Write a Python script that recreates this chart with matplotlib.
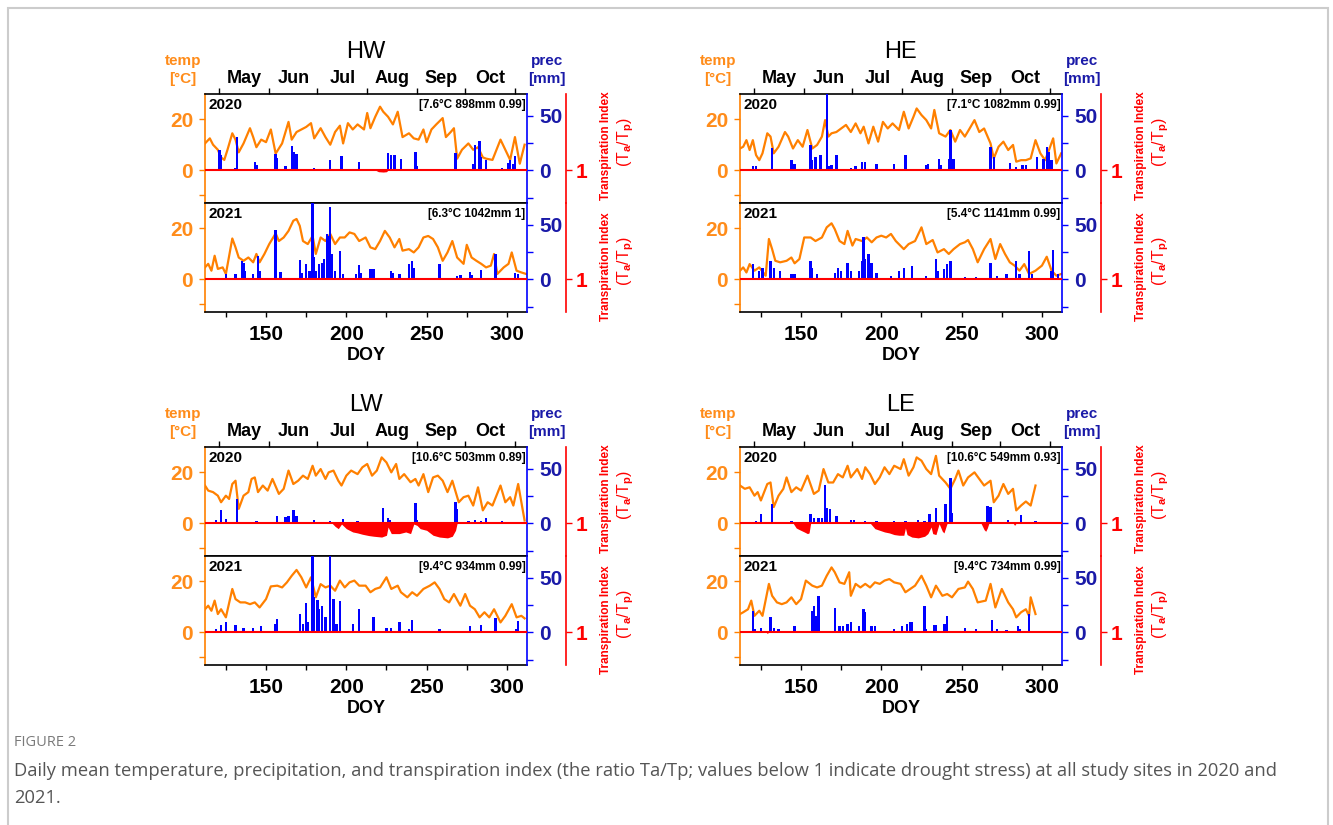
import matplotlib.pyplot as plt

plt.rcParams['font.family'] = ['Liberation Sans', 'DejaVu Sans']
plt.rcParams['font.weight'] = 'bold'
plt.rcParams['axes.labelweight'] = 'bold'
plt.rcParams['mathtext.fontset'] = 'custom'
plt.rcParams['mathtext.rm'] = 'Liberation Sans'

# ---- data: (DOY, value) ----
hw20_temp = [(112,10.5),(115,12.5),(117,10),(120,8),(122,5),(124,4),(126,8),(129,14.5),(131,12),(133,7),
             (136,10.5),(140,16.5),(142,13),(144,9),(147,12),(150,11),(153,16),(156,6.5),(160,10.5),(164,19),
             (166,12),(169,15),(172,16),(175,17),(178,18.5),(180,12.5),(184,16.5),(187,13),(190,10),(193,15),
             (196,17.5),(198,10.5),(201,18.5),(204,16),(207,18),(211,16),(213,22.5),(215,16.5),(218,21),(221,25),
             (223,23),(226,21),(229,18),(232,23),(235,13),(239,14.5),(242,12.5),(245,12),(248,16),(250,11),
             (253,16),(256,18),(260,20.5),(262,13),(265,15),(267,16.5),(269,4.5),(272,8),(276,10.5),(279,8),
             (282,9),(285,5),(287,4.5),(291,4),(296,12),(299,8),(302,4),(305,13),(308,2.5),(311,10)]
hw20_prec = [(121,18.5),(122,14),(131,2),(132,31),(143,8),(144,5),(156,15),(157,11),(162,4),(166,22),
             (167,17),(169,15),(180,2.5),(190,9),(197,13),(208,7.5),(226,16),(228,14),(230,14),(234,10),
             (243,17),(244,4),(268,16),(279,6),(280,23),(283,27),(284,12),(287,9),(297,2.5),(301,7),
             (302,9),(304,5.5),(305,13)]
hw20_ti = [(218,1.0),(220,0.95),(223,0.94),(225,0.95),(226,1.0)]

hw21_temp = [(112,4.6),(114,6),(116,3.3),(118,9.2),(120,4),(123,4.6),(125,2),(129,16),(131,12.5),(133,8.5),
             (136,7.2),(139,8.5),(142,6.6),(144,9.9),(146,6.6),(149,9.9),(152,13.8),(156,18),(158,15),(161,16.4),
             (164,19),(167,23),(169,23.7),(171,21),(173,15),(176,13.8),(179,17),(181,9.9),(184,16.4),(187,15),
             (190,17.8),(193,13.8),(196,16.4),(199,16.4),(202,18.4),(205,17.8),(208,15),(212,16.4),(215,12.5),(218,11.8),
             (221,15),(224,19),(227,16.4),(230,12.5),(233,15.8),(235,11.2),(239,11.8),(242,10.5),(245,12.5),(248,16.4),
             (251,17),(254,15.8),(257,12.5),(260,7.2),(263,10.5),(266,15),(269,8.5),(273,6),(275,13.5),(278,8.5),
             (281,7.2),(284,6),(287,4.6),(290,5.3),(292,9.9),(294,2),(298,4.6),(301,6),(303,10.5),(306,3.3),
             (309,2.6),(312,2)]
hw21_prec = [(121,1.5),(125,4.6),(131,4.6),(135,17),(136,15),(137,7.7),(142,4.6),(145,21.6),(146,7.7),(156,44.8),
             (159,6.8),(171,17.6),(172,6),(175,14),(177,7.7),(179,72),(180,20),(181,7.7),(183,14),(185,15),
             (186,18.5),(188,41.7),(189,40),(190,66),(191,23),(193,7.7),(196,26),(198,4.6),(206,4.6),(208,13),
             (209,6),(215,9),(217,9),(228,7.7),(229,6),(233,4.6),(239,14),(241,17),(242,10.8),(258,14),
             (269,3),(271,3.7),(277,6.8),(278,3.7),(284,8.3),(293,23),(305,6),(307,4.6)]
hw21_ti = []

he20_temp = [(112,8.5),(114,9.2),(116,11.8),(118,7.9),(120,11.8),(122,5.9),(124,3.9),(126,6.6),(129,14.5),(131,13.2),
             (133,6.6),(136,9.2),(140,15),(142,13.2),(145,8.5),(148,11.8),(151,9.2),(154,15.8),(157,8.5),(160,9.9),
             (163,13.2),(165,19.7),(167,13.2),(169,14.5),(172,15),(175,16.4),(178,17.8),(181,15),(184,18.4),(187,14.5),
             (189,17.1),(192,10.5),(195,17.1),(198,11.2),(201,19),(204,16.4),(207,18.4),(211,15.8),(214,23),(217,16.4),
             (220,21),(222,24.3),(225,21.7),(228,19.7),(231,16.4),(233,23.7),(236,14.5),(240,13.2),(243,15.8),(246,11.2),
             (249,15.8),(252,13.2),(255,16.4),(258,19.7),(261,15),(264,16.4),(268,10.5),(270,4.6),(273,9.2),(276,11.2),
             (279,7.9),(282,9.9),(284,3.3),(287,3.9),(290,3.9),(293,4.6),(296,11.8),(299,6.6),(302,3.9),(304,7.2),
             (307,12.5),(309,2.6),(312,6.6)]
he20_prec = [(120,3.7),(122,3.7),(132,20),(144,9.9),(146,6),(156,23),(157,9),(159,12),(162,14),(166,72),
             (167,3.7),(169,4.6),(172,14),(181,2),(184,3.7),(188,7.7),(190,7.7),(197,6),(208,6),(215,14),
             (228,4.6),(229,5.6),(236,10),(237,4.6),(242,10),(243,37),(245,10.8),(268,21),(270,12),(280,6.8),
             (284,3),(288,4.6),(290,4.6),(297,12),(301,10.8),(303,21.6),(304,17),(306,9)]
he20_ti = []

he21_temp = [(112,3.3),(114,4.6),(116,2.6),(118,5.9),(121,3.3),(124,4.6),(128,1.3),(130,15.8),(132,11.8),(134,7.2),
             (137,6.6),(141,7.2),(144,8.5),(146,6.2),(149,7.9),(152,16.4),(156,16.4),(159,15),(163,16.4),(166,20.4),
             (169,22),(171,19.7),(174,15),(177,13.8),(179,19),(182,13.2),(184,15.8),(188,15),(191,16.4),(194,14.5),
             (197,16.4),(200,17.1),(203,16.4),(206,17.8),(209,15),(214,11.8),(217,13.8),(221,15),(225,20.4),(228,13.8),
             (232,15.4),(235,10.5),(239,11.8),(242,9.9),(245,11.8),(249,13.8),(252,14.5),(254,15.4),(257,11.8),(260,6.6),
             (264,11.8),(268,15.8),(271,7.9),(274,13.8),(277,9.9),(280,6.6),(283,5.3),(286,3.3),(289,5.9),(292,2),
             (296,3.3),(300,5.3),(303,8.8),(306,3.3),(309,1.3),(312,2)]
he21_prec = [(120,14),(124,7.7),(126,10.8),(131,17),(133,10.8),(137,7.7),(144,5.2),(146,4.6),(156,16.4),(157,10),
             (160,4.6),(171,6),(173,10.8),(175,7.7),(179,15.4),(181,7.7),(186,7.7),(188,17),(189,38.6),(190,18.5),
             (192,23),(194,14.5),(197,6),(206,3),(211,7.7),(214,10.8),(219,12.3),(228,3),(234,18.5),(235,7.7),
             (239,9.2),(241,14),(243,17),(252,2),(259,2),(268,15.4),(272,3),(278,4.6),(284,17),(286,4.6),
             (292,25.6),(294,4.6),(306,7.7),(307,27),(310,4.6)]
he21_ti = []

lw20_temp = [(112,14.8),(114,12.8),(117,12.2),(120,10.8),(122,8.2),(125,10.8),(127,9.5),(129,15.4),(131,16.7),(133,5.6),
             (136,10.8),(139,12.2),(141,17.4),(143,18),(145,12.2),(148,14.8),(151,12.8),(154,17.4),(158,11.5),(161,13.5),
             (164,20.7),(167,15.4),(170,16.7),(173,18.7),(176,17.4),(179,22.6),(181,18.7),(184,21.3),(187,17.4),(189,20),
             (192,20.7),(195,16.7),(197,14.8),(200,18.7),(203,20.7),(207,19.3),(210,22),(213,23.3),(216,18.7),(219,20.7),
             (222,25.9),(225,23.9),(228,20),(231,23.3),(233,17.4),(236,19.3),(240,16.1),(243,17.4),(245,14.8),(248,19.3),
             (251,12.2),(254,18),(257,18.7),(260,16.7),(263,12.2),(266,16.7),(270,8.2),(273,10.2),(276,10.8),(279,6.9),
             (282,14.1),(285,5),(288,8.2),(291,6.9),(296,14.8),(299,8.2),(302,10.2),(304,6.9),(307,15.4),(309,8.2),
             (311,1)]
lw20_prec = [(119,3),(122,12.3),(125,4),(132,22.4),(144,2.5),(157,7),(162,5.5),(164,7),(167,12.3),(169,6.4),
             (180,3.4),(190,2.5),(198,4),(207,2.5),(223,13.8),(226,4.6),(227,3.4),(234,1.5),(243,18.7),(244,3),
             (268,19.3),(269,13.2),(276,1.8),(280,3),(284,2.5),(287,4.6),(297,1.8),(300,1.5),(302,1.5),(304,1.5),
             (306,1.5),(307,1.5)]
lw20_ti = [(191,1.0),(193,0.9),(195,0.83),(197,0.97),(200,0.83),(204,0.73),(207,0.7),(210,0.66),(214,0.62),(217,0.6),
           (222,0.575),(225,0.63),(226,0.88),(228,0.68),(233,0.68),(237,0.73),(240,0.68),(242,0.97),(244,0.93),(246,0.83),
           (250,0.78),(254,0.63),(258,0.575),(263,0.55),(266,0.6),(268,0.78),(269,1.0)]

lw21_temp = [(112,9),(114,10.4),(116,8.4),(118,12.4),(120,7.1),(122,9),(125,5.8),(129,17),(131,13),(134,11.7),
             (137,11.7),(140,11),(143,11.7),(146,9.7),(150,13),(153,18),(157,18.3),(160,17.6),(163,19.6),(166,22.2),
             (169,24.5),(172,21.6),(175,17.6),(178,21.6),(181,13.7),(184,18.9),(187,17.6),(190,18.3),(193,16.3),(196,20.3),
             (199,17.6),(202,19.6),(205,20.3),(208,18.3),(212,18.3),(215,15.7),(218,17),(221,17.6),(225,21.6),(228,17),
             (232,18.3),(234,15.7),(238,13.7),(241,15.7),(244,14.3),(248,17),(252,18.3),(255,19.6),(258,17),(261,13),
             (264,11.7),(267,15),(271,10.4),(274,15),(277,10.4),(280,9),(283,5.8),(286,7.8),(289,5.8),(292,9),
             (296,3.8),(299,6.4),(303,11),(306,5.8),(309,6.4),(311,5.4)]
lw21_prec = [(119,2.8),(122,6.5),(125,9),(131,6.5),(136,4.3),(142,3.7),(147,5.9),(156,8),(157,12),(171,16.7),
             (173,7.4),(175,26.9),(176,9),(179,72),(180,32),(182,30),(183,21.3),(185,24.4),(187,13.6),(190,72),
             (192,30.6),(194,7.4),(196,29),(204,7.4),(208,21.3),(217,13.6),(225,4.3),(228,4.3),(233,9),(239,2.8),
             (241,11.4),(258,2.8),(277,5.9),(284,6.5),(293,12.7),(306,2.8),(307,10.5)]
lw21_ti = []

le20_temp = [(112,14.8),(115,13.5),(118,14.1),(121,10.8),(123,12.2),(125,8.9),(129,15.4),(131,16),(133,6.3),(136,10.8),
             (139,13.5),(141,18),(144,12.2),(147,14.1),(150,12.8),(154,18.7),(158,11.5),(161,12.8),(164,21.3),(167,16),
             (170,16),(173,19.3),(176,18),(179,22.6),(181,18),(185,21.3),(188,17.4),(190,22),(193,19.3),(196,15.4),
             (199,18),(202,22),(205,19.3),(208,22.6),(212,21.3),(214,25.2),(217,18.7),(220,22),(222,25.9),(225,24.6),
             (228,21.3),(231,19.3),(234,26.5),(236,18.7),(240,16),(243,13.5),(246,17.4),(248,20.7),(251,14.8),(254,18),
             (258,20),(261,17.4),(264,14.8),(268,16.7),(270,8.2),(273,10.8),(276,15.4),(279,11.5),(282,13.5),(284,5),
             (287,6.9),(290,8.5),(293,6.9),(296,14.8)]
le20_prec = [(122,1.8),(125,8.6),(132,17.8),(144,1.8),(156,8.6),(158,4.6),(161,4.6),(163,4.6),(165,35.3),(166,13.8),
             (168,13.2),(172,6.4),(181,3.4),(183,3.4),(190,1.8),(197,2.5),(208,2.5),(215,1.8),(223,3.4),(227,1.8),
             (230,8.6),(234,13.8),(240,17.8),(243,41.4),(244,9.2),(266,16.3),(268,14.7),(279,3.4),(287,7.7),(296,1.8)]
le20_ti = [(145,1.0),(147,0.85),(149,0.8),(152,0.73),(154,0.68),(155,0.7),(156,1.0),
           (193,1.0),(196,0.83),(199,0.78),(202,0.73),(205,0.7),(208,0.65),(211,0.63),(214,0.63),(215,0.85),
           (216,0.65),(219,0.575),(223,0.55),(227,0.6),(229,0.68),(231,0.88),(232,0.68),(234,0.65),(236,0.98),
           (238,0.75),(239,0.7),(240,0.85),(241,1.0),
           (262,1.0),(264,0.8),(265,0.75),(266,0.85),(267,1.0),(282,1.0),(283,0.93),(284,1.0)]

le21_temp = [(112,7.1),(114,7.8),(117,9),(119,12.4),(121,6.4),(124,8.4),(126,6.4),(130,19),(132,14.3),(135,11.7),
             (138,11),(141,11.7),(144,13.7),(147,11),(150,13),(153,20.3),(157,18.3),(160,17.6),(163,18.3),(166,22.2),
             (169,25.5),(171,23.6),(174,19.6),(177,19),(180,23.6),(181,14.3),(184,19),(187,17.6),(190,19),(193,17.6),
             (196,19.6),(199,19),(202,20.3),(205,20.9),(208,19.6),(212,19),(215,15.7),(218,17),(221,18.3),(225,22.2),
             (228,18.3),(231,13.7),(234,18.3),(238,14.3),(241,15),(244,13.7),(248,17),(252,17.6),(254,19.9),(257,17),
             (260,11.7),(265,12.4),(268,19),(271,9.7),(275,17),(279,11.7),(282,9),(284,5.8),(287,7.8),(290,9),
             (292,6.4),(293,13.7),(296,7.1)]
le21_prec = [(120,19.8),(121,2.8),(125,4.3),(131,13.6),(133,4.3),(136,2.8),(146,5.9),(157,19.8),(158,24.4),(159,15),
             (161,33.6),(171,22.2),(174,5.9),(176,5.9),(179,8),(181,9),(186,5.9),(189,21.3),(190,18.2),(194,5.9),
             (196,5.9),(208,2.8),(213,5.9),(216,8),(218,9.6),(219,9),(227,23.8),(228,3.4),(233,6.5),(234,6.5),
             (239,7.4),(240,8),(241,15),(252,4.3),(259,2.8),(269,11.4),(272,2.8),(278,1.9),(285,5.9),(286,2.8),
             (292,16.7)]
le21_ti = [(128,1.0),(129,0.96),(130,1.0)]

month_starts = [121, 152, 182, 213, 244, 274, 305]
month_names = ['May', 'Jun', 'Jul', 'Aug', 'Sep', 'Oct']

ORANGE = '#ff8000'
ORANGE_TXT = '#ff8c1a'
BLUE = '#0000ff'
BLUE_TXT = '#1a1aa8'
RED = '#ff0000'

W, H = 1333, 825
fig = plt.figure(figsize=(W / 100, H / 100), dpi=100)


def fig_xy(x, y):
    return x / W, 1 - y / H


def draw_year(left, top, year, temp, prec, ti, note, upper):
    ax = fig.add_axes([left / W, 1 - (top + 109) / H, 322 / W, 109 / H])
    d, v = zip(*temp)
    ax.plot(d, v, color=ORANGE, lw=1.6)
    ax.set_xlim(112, 312.5)
    ax.set_ylim(-13, 30)
    ax.set_yticks([-10, 0, 20], ['', '0', '20'])
    ax.tick_params(axis='y', colors=ORANGE, labelcolor=ORANGE_TXT, length=4.5, width=1, pad=4, labelsize=15)
    ax.spines['left'].set_color(ORANGE)
    ax.spines['right'].set_visible(False)
    for s in ['top', 'bottom', 'left']:
        ax.spines[s].set_linewidth(1.2)

    if upper:
        ax.xaxis.tick_top()
        ax.set_xticks(month_starts, [''] * len(month_starts))
        mids = [(a + b) / 2 for a, b in zip(month_starts[:-1], month_starts[1:])]
        ax.set_xticks(mids, month_names, minor=True)
        ax.tick_params(axis='x', which='major', top=True, bottom=False, length=4, width=1)
        ax.tick_params(axis='x', which='minor', top=True, bottom=False, length=0,
                       labeltop=True, labelbottom=False, labelsize=13, pad=5)
    else:
        ax.set_xticks([150, 200, 250, 300])
        ax.set_xticks([125, 175, 225, 275], minor=True)
        ax.tick_params(axis='x', which='both', top=False, length=3.5, width=1, pad=6, labelsize=15)
        ax.set_xlabel('DOY', fontsize=13, fontweight='bold', labelpad=2)

    ax.text(0.012, 0.9, year, transform=ax.transAxes, fontsize=11, va='center', ha='left')
    ax.text(0.995, 0.9, note, transform=ax.transAxes, fontsize=8.5, va='center', ha='right')

    # precipitation
    axp = ax.twinx()
    pd_, pv = zip(*prec)
    axp.bar(pd_, pv, width=1.5, color=BLUE, lw=0)
    axp.set_ylim(-30, 70)
    axp.set_yticks([-25, 0, 25, 50], ['', '0', '', '50'])
    axp.tick_params(axis='y', colors=BLUE, labelcolor=BLUE_TXT, length=4, width=1, pad=5, labelsize=15)
    for s in ['left', 'top', 'bottom']:
        axp.spines[s].set_visible(False)
    axp.spines['right'].set_color(BLUE)
    axp.spines['right'].set_linewidth(1.2)

    # transpiration index
    axt = ax.twinx()
    axt.set_ylim(0, 3.31)
    axt.axhline(1, color=RED, lw=1.5)
    if ti:
        td, tv = zip(*ti)
        axt.fill_between(td, tv, 1, color=RED, lw=0)
    axt.spines['right'].set_position(('outward', 28.1))
    axt.spines['right'].set_color(RED)
    axt.spines['right'].set_linewidth(1.2)
    for s in ['left', 'top', 'bottom']:
        axt.spines[s].set_visible(False)
    axt.set_yticks([1], ['1'])
    axt.tick_params(axis='y', colors=RED, length=4, width=1, pad=3, labelsize=15)

    ty = 0.53 if upper else 0.42
    py = 0.56 if upper else 0.47
    axt.text(1.245, ty, 'Transpiration Index', transform=ax.transAxes, rotation=90,
             color=RED, fontsize=8.5, ha='center', va='center')
    axt.text(1.307, py, '(T$_\\mathrm{a}$/T$_\\mathrm{p}$)', transform=ax.transAxes, rotation=90,
             color=RED, fontsize=11.5, fontweight='normal', ha='center', va='center')


def draw_panel(left, top, name, d20, d21):
    draw_year(left, top, '2020', *d20, True)
    draw_year(left, top + 109, '2021', *d21, False)
    fig.text(*fig_xy(left + 161, top - 42), name, fontsize=17, fontweight='normal', ha='center', va='center')
    fig.text(*fig_xy(left - 22, top - 33), 'temp', color=ORANGE_TXT, fontsize=11, ha='center', va='center')
    fig.text(*fig_xy(left - 22, top - 15), '[°C]', color=ORANGE_TXT, fontsize=11, ha='center', va='center')
    fig.text(*fig_xy(left + 342, top - 33), 'prec', color=BLUE_TXT, fontsize=11, ha='center', va='center')
    fig.text(*fig_xy(left + 342, top - 15), '[mm]', color=BLUE_TXT, fontsize=11, ha='center', va='center')


draw_panel(205, 94, 'HW', (hw20_temp, hw20_prec, hw20_ti, '[7.6°C 898mm 0.99]'),
           (hw21_temp, hw21_prec, hw21_ti, '[6.3°C 1042mm 1]'))
draw_panel(740, 94, 'HE', (he20_temp, he20_prec, he20_ti, '[7.1°C 1082mm 0.99]'),
           (he21_temp, he21_prec, he21_ti, '[5.4°C 1141mm 0.99]'))
draw_panel(205, 447, 'LW', (lw20_temp, lw20_prec, lw20_ti, '[10.6°C 503mm 0.89]'),
           (lw21_temp, lw21_prec, lw21_ti, '[9.4°C 934mm 0.99]'))
draw_panel(740, 447, 'LE', (le20_temp, le20_prec, le20_ti, '[10.6°C 549mm 0.93]'),
           (le21_temp, le21_prec, le21_ti, '[9.4°C 734mm 0.99]'))

# caption and page frame
fig.text(*fig_xy(14, 742), 'FIGURE 2', color='#7a7a7a', fontsize=10.5, fontweight='normal',
         family='Open Sans', va='center')
fig.text(*fig_xy(14, 771), 'Daily mean temperature, precipitation, and transpiration index (the ratio Ta/Tp; '
         'values below 1 indicate drought stress) at all study sites in 2020 and',
         color='#555555', fontsize=13.2, fontweight='normal', family='Open Sans', va='center')
fig.text(*fig_xy(14, 798), '2021.', color='#555555', fontsize=13.2, fontweight='normal',
         family='Open Sans', va='center')
fig.add_artist(plt.Rectangle((8 / W, -0.05), 1320 / W, 1.05 - 8 / H, transform=fig.transFigure,
                             fill=False, ec='#cccccc', lw=1.5))

fig.savefig('out.png', dpi=100)
